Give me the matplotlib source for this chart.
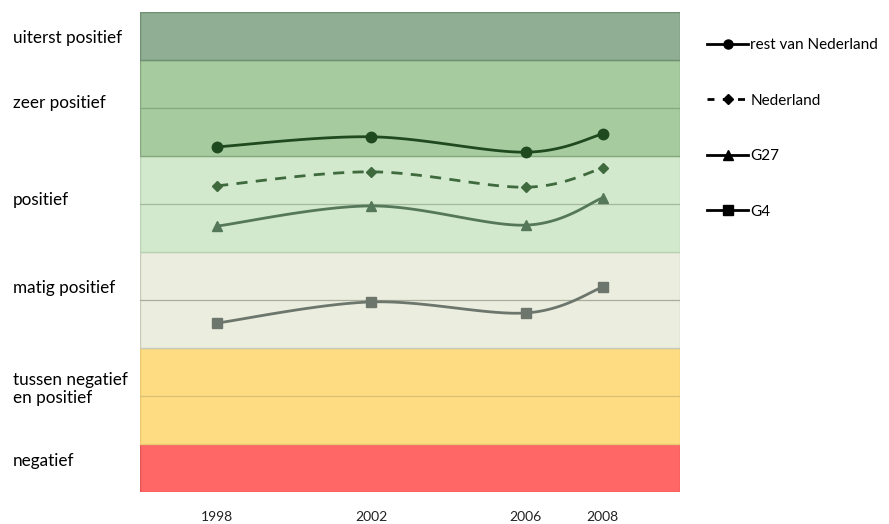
import numpy as np
import matplotlib
matplotlib.use("Agg")
import matplotlib.pyplot as plt
from matplotlib.lines import Line2D

plt.rcParams['font.family'] = ['Lato', 'DejaVu Sans']

# Survey years and scores per region
years = [1998, 2002, 2006, 2008]
rest_nl = [7.19, 7.40, 7.08, 7.46]
nederland = [6.38, 6.67, 6.35, 6.75]
g27 = [5.54, 5.96, 5.56, 6.13]
g4 = [3.52, 3.96, 3.73, 4.27]

series_names = ["rest van Nederland", "Nederland", "G27", "G4"]

# Rating bands (lower, upper, label)
band_edges = [0, 1, 3, 5, 7, 9, 10]
band_labels = ["negatief", "tussen negatief\nen positief", "matig positief",
               "positief", "zeer positief", "uiterst positief"]
band_label_pos = [0.65, 2.15, 4.25, 6.08, 8.1, 9.46]
band_colors = ["#ff6666", "#fedd82", "#ebeddf", "#d3e9cd", "#a6cb9f", "#8fae93"]
band_edgecolors = ["#e05555", "#e8c870", "#c8cabc", "#b8d2b2", "#86a87f", "#6f8f73"]
grid_colors = {2: "#d9c275", 4: "#a9ad9c", 6: "#a3b89f", 8: "#86a87f"}


def catmull_rom(xs, ys, n=40):
    pts = np.column_stack([xs, ys]).astype(float)
    p = np.vstack([pts[0], pts, pts[-1]])
    out = []
    for i in range(1, len(p) - 2):
        p0, p1, p2, p3 = p[i - 1], p[i], p[i + 1], p[i + 2]
        t = np.linspace(0, 1, n)[:, None]
        seg = 0.5 * ((2 * p1) + (-p0 + p2) * t
                     + (2 * p0 - 5 * p1 + 4 * p2 - p3) * t ** 2
                     + (-p0 + 3 * p1 - 3 * p2 + p3) * t ** 3)
        out.append(seg if i == 1 else seg[1:])
    out = np.vstack(out)
    return out[:, 0], out[:, 1]


fig = plt.figure(figsize=(8.89, 5.24), dpi=100)
W, H = 889, 524
ax = fig.add_axes([140 / W, 1 - 492 / H, 540 / W, 480 / H])
ax.set_xlim(1996, 2010)
ax.set_ylim(0, 10)

for lo, hi, fc, ec in zip(band_edges[:-1], band_edges[1:], band_colors, band_edgecolors):
    ax.add_patch(plt.Rectangle((1996, lo), 14, hi - lo, facecolor=fc,
                               edgecolor=ec, linewidth=1.0, zorder=1))

# inner gridlines
for v, c in grid_colors.items():
    ax.axhline(v, color=c, linewidth=0.9, zorder=1.5)

styles = [
    dict(color="#1f4a1f", marker="o", ms=7.5, ls="-"),
    dict(color="#3e6a3e", marker="D", ms=5.5, ls=(0, (4, 3))),
    dict(color="#55785a", marker="^", ms=7.5, ls="-"),
    dict(color="#6c766c", marker="s", ms=7.5, ls="-"),
]

for vals, st in zip([rest_nl, nederland, g27, g4], styles):
    sx, sy = catmull_rom(years, vals)
    ax.plot(sx, sy, color=st["color"], lw=2.0, ls=st["ls"], zorder=3)
    ax.plot(years, vals, ls="none", marker=st["marker"], ms=st["ms"],
            color=st["color"], markeredgecolor=st["color"], zorder=4)

ax.set_xticks(years)
ax.set_xticklabels([str(y) for y in years], fontsize=10, color="#222222")
ax.tick_params(axis="x", length=0, pad=14)
ax.set_yticks([])
for s in ax.spines.values():
    s.set_visible(False)

for lab, pos in zip(band_labels, band_label_pos):
    ax.text(-127 / 540, (pos) / 10, lab, transform=ax.transAxes,
            ha="left", va="center", fontsize=12.3, color="#000000",
            linespacing=1.15)

handles = [
    Line2D([], [], color="black", lw=2, marker="o", ms=6.5),
    Line2D([], [], color="black", lw=2, marker="D", ms=5, ls=(0, (2.5, 3))),
    Line2D([], [], color="black", lw=2, marker="^", ms=6.5),
    Line2D([], [], color="black", lw=2, marker="s", ms=6.5),
]
fig.legend(handles, series_names, loc="upper left",
           bbox_to_anchor=(701 / W, 1 - 32 / H), frameon=False,
           fontsize=11, labelspacing=2.72, handlelength=2.7,
           handletextpad=0.12, borderaxespad=0)

fig.savefig("out.png", dpi=100)
